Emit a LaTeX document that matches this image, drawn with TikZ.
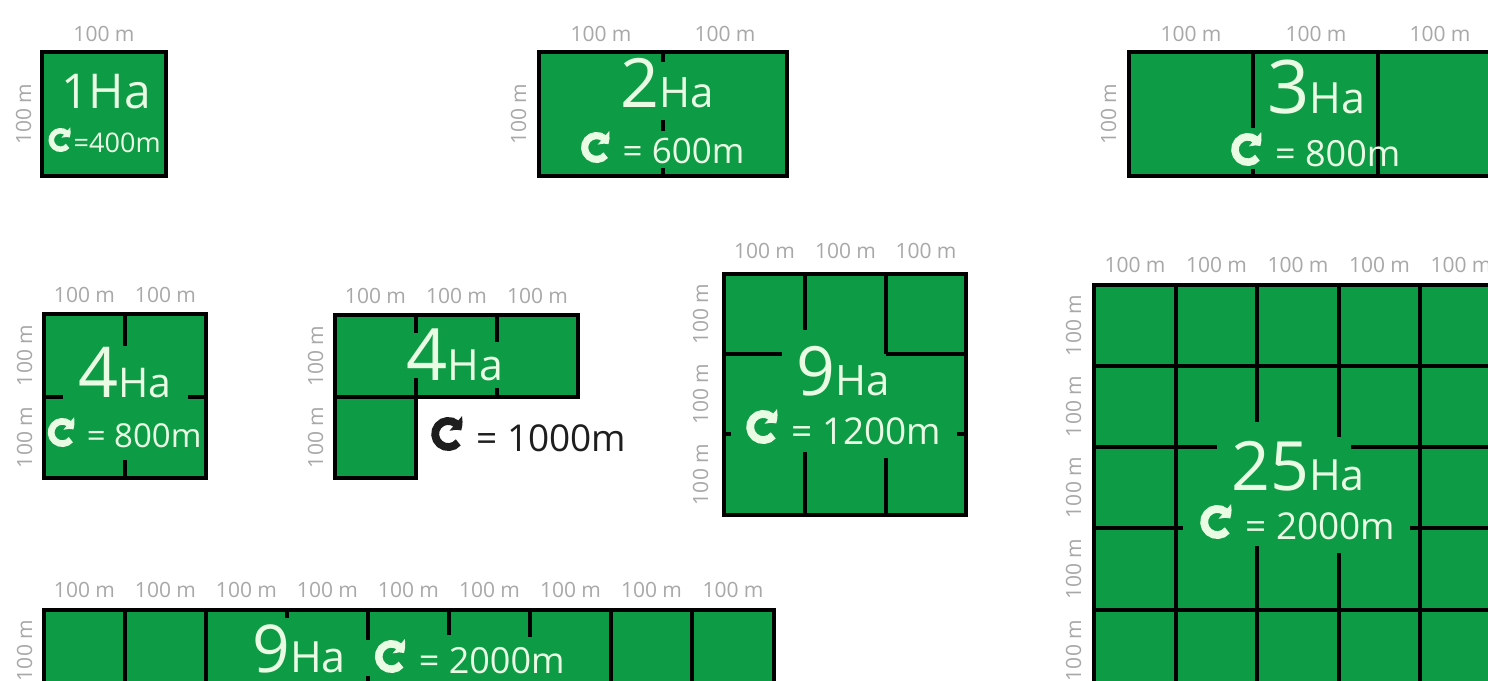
\documentclass[tikz,border=0pt]{standalone}
\usepackage{fontspec}
\setmainfont{Open Sans}
\usetikzlibrary{calc,arrows.meta,bending}
\definecolor{fgreen}{HTML}{0E9B45}
\definecolor{lgrey}{HTML}{A8A8A8}
\definecolor{twhite}{HTML}{E9FBE3}
\definecolor{tblack}{HTML}{1E1E1E}
\newcommand{\cyc}[2]{\tikz[baseline=0pt,x=1pt,y=1pt]{%
\pgfmathsetmacro{\cyR}{#1/2}%
\pgfmathsetmacro{\cyW}{#1*0.23}%
\pgfmathsetmacro{\cyr}{\cyR-\cyW/2}%
\pgfmathsetmacro{\cyL}{\cyW*1.15}%
\pgfmathsetmacro{\cyA}{\cyW*2.4}%
\path (0,0) rectangle ({2.1*\cyR},#1);
\draw[#2, line width=\cyW pt, -{Triangle[length=\cyL pt, width=\cyA pt, bend]}] ([shift={(\cyR,\cyR)}]-40:\cyr) arc[start angle=-40, end angle=-345, radius=\cyr];
}}
\newcommand{\fs}[1]{\fontsize{#1}{#1}\selectfont}
\tikzset{
  border/.style={draw=black, line width=4pt, line join=miter},
  div/.style={draw=black, line width=4pt},
  dim/.style={text=lgrey, font=\fs{21}, inner sep=0pt, anchor=base},
  dimv/.style={dim, rotate=90},
  big/.style={text=twhite, inner sep=0pt, anchor=base},
}
\begin{document}
\begin{tikzpicture}[x=1pt,y=-1pt]
\useasboundingbox (0,0) rectangle (1488,680);
\clip (0,0) rectangle (1488,680);
\fill[white] (0,0) rectangle (1488,680);

% ---------- 1 Ha ----------
\fill[fgreen] (42,52) rectangle (166,176);
\draw[border] (42,52) rectangle (166,176);
\node[dim] (a1) at (104,41) {100 m};
\node[dimv] (a2) at (31,114) {100 m};
\node[big] (a3) at (106,108) {\fs{48}1Ha};
\node[big] (a4) at (104,152) {\fs{27}\cyc{24}{twhite}=400m};

% ---------- 2 Ha ----------
\fill[fgreen] (539,52) rectangle (787,176);
\draw[div] (663,52) -- (663,62) (663,120) -- (663,131) (663,168) -- (663,176);
\draw[border] (539,52) rectangle (787,176);
\node[dim] (b1) at (601,41) {100 m};
\node[dim] (b2) at (725,41) {100 m};
\node[dimv] (b3) at (526,114) {100 m};
\node[big] (b4) at (667,107) {\fs{68}2\fs{42}Ha};
\node[big] (b5) at (662,163) {\fs{35}\cyc{31}{twhite} = 600m};

% ---------- 3 Ha ----------
\fill[fgreen] (1129,52) rectangle (1503,176);
\draw[div] (1253,52) -- (1253,128) (1253,169) -- (1253,176) (1378,52) -- (1378,176);
\draw[border] (1129,52) rectangle (1503,176);
\node[dim] (c1) at (1191,41) {100 m};
\node[dim] (c2) at (1316,41) {100 m};
\node[dim] (c3) at (1440,41) {100 m};
\node[dimv] (c4) at (1116,114) {100 m};
\node[big] (c5) at (1316,113) {\fs{74}3\fs{43}Ha};
\node[big] (c6) at (1315,166) {\fs{36}\cyc{33}{twhite} = 800m};

% ---------- 4 Ha square ----------
\fill[fgreen] (44,314) rectangle (206,478);
\draw[div] (125,314) -- (125,346) (125,460) -- (125,478)
           (44,397) -- (63,397) (188,397) -- (206,397);
\draw[border] (44,314) rectangle (206,478);
\node[dim] (d1) at (84.5,302) {100 m};
\node[dim] (d2) at (165.5,302) {100 m};
\node[dimv] (d3) at (32,355.5) {100 m};
\node[dimv] (d4) at (32,437.5) {100 m};
\node[big] (d5) at (125,397) {\fs{70}4\fs{41}Ha};
\node[big] (d6) at (124,447) {\fs{33}\cyc{29}{twhite} = 800m};

% ---------- 4 Ha L-shape ----------
\fill[fgreen] (335,315) -- (578,315) -- (578,397) -- (416,397) -- (416,478) -- (335,478) -- cycle;
\draw[div] (335,397) -- (416,397)
           (416,315) -- (416,333) (416,378) -- (416,397)
           (497,315) -- (497,342) (497,388) -- (497,397);
\draw[border] (335,315) -- (578,315) -- (578,397) -- (416,397) -- (416,478) -- (335,478) -- cycle;
\node[dim] (e1) at (375.5,303) {100 m};
\node[dim] (e2) at (456.5,303) {100 m};
\node[dim] (e3) at (537.5,303) {100 m};
\node[dimv] (e4) at (323,356) {100 m};
\node[dimv] (e5) at (323,437.5) {100 m};
\node[big] (e6) at (455,380) {\fs{72}4\fs{43}Ha};
\node[big, text=tblack] (e7) at (528,451) {\fs{37}\cyc{34}{tblack} = 1000m};

% ---------- 9 Ha square ----------
\fill[fgreen] (724,274) rectangle (966,515);
\draw[div] (805,274) -- (805,330) (805,452) -- (805,515)
           (886,274) -- (886,354) (886,458) -- (886,515)
           (724,354) -- (782,354) (886,354) -- (966,354)
           (724,434) -- (731,434) (957,434) -- (966,434);
\draw[border] (724,274) rectangle (966,515);
\node[dim] (f1) at (764.5,258) {100 m};
\node[dim] (f2) at (845.5,258) {100 m};
\node[dim] (f3) at (926,258) {100 m};
\node[dimv] (f4) at (708,314) {100 m};
\node[dimv] (f5) at (708,394) {100 m};
\node[dimv] (f6) at (708,474.5) {100 m};
\node[big] (f7) at (843,395) {\fs{68}9\fs{42}Ha};
\node[big] (f8) at (843,444) {\fs{37}\cyc{34}{twhite} = 1200m};

% ---------- 25 Ha ----------
\fill[fgreen] (1094,285) rectangle (1502,691);
\draw[div] (1176,285) -- (1176,691) (1420,285) -- (1420,691)
           (1257,285) -- (1257,422) (1257,546) -- (1257,691)
           (1339,285) -- (1339,437) (1339,553) -- (1339,691)
           (1094,366) -- (1502,366) (1094,610) -- (1502,610)
           (1094,447) -- (1217,447) (1351,447) -- (1502,447)
           (1094,528) -- (1183,528) (1410,528) -- (1502,528);
\draw[border] (1094,285) rectangle (1502,691);
\node[dim] (g1) at (1135,272) {100 m};
\node[dim] (g2) at (1216.5,272) {100 m};
\node[dim] (g3) at (1298,272) {100 m};
\node[dim] (g4) at (1379.5,272) {100 m};
\node[dim] (g5) at (1461,272) {100 m};
\node[dimv] (g6) at (1081,325.5) {100 m};
\node[dimv] (g7) at (1081,406.5) {100 m};
\node[dimv] (g8) at (1081,487.5) {100 m};
\node[dimv] (g9) at (1081,569) {100 m};
\node[dimv] (g10) at (1081,650.5) {100 m};
\node[big] (g11) at (1298,490) {\fs{68}25\fs{43}Ha};
\node[big] (g12) at (1297,539) {\fs{37}\cyc{34}{twhite} = 2000m};

% ---------- 9 Ha strip ----------
\fill[fgreen] (44,610) rectangle (774,700);
\draw[div] (125,610) -- (125,700) (206,610) -- (206,700)
           (287,610) -- (287,618)
           (368,610) -- (368,640) (368,676) -- (368,700)
           (449,610) -- (449,635) (530,610) -- (530,637)
           (611,610) -- (611,700) (692,610) -- (692,700);
\draw[border] (44,610) rectangle (774,700);
\foreach \i/\cx in {1/84.5,2/165.5,3/246.5,4/327.5,5/408.5,6/489.5,7/570.5,8/651.5,9/733}
  \node[dim] (h\i) at (\cx,597) {100 m};
\node[dimv] (h10) at (32,650.5) {100 m};
\node[big] (h11) at (299,672) {\fs{66}9\fs{43}Ha};
\node[big] (h12) at (469,673) {\fs{36}\cyc{33}{twhite} = 2000m};
\end{tikzpicture}
\end{document}
